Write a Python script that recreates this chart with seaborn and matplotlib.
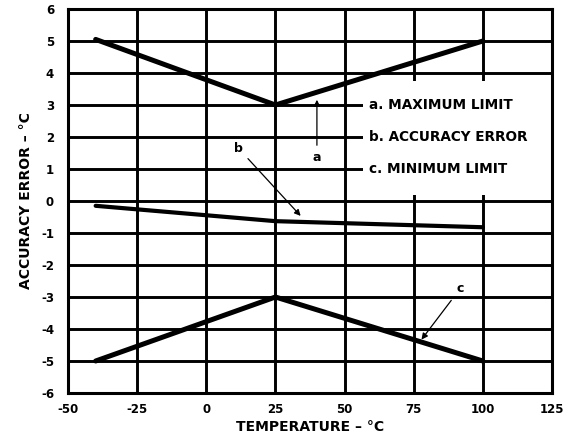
import matplotlib
matplotlib.use("Agg")
import matplotlib.pyplot as plt
import seaborn as sns
import pandas as pd
from matplotlib.patches import Rectangle

# Data
temps = [-40, 25, 100]
max_limit = [5.05, 3.0, 5.0]
accuracy_error = [-0.15, -0.63, -0.82]
min_limit = [-5.0, -3.0, -5.0]
x_ticks = [-50, -25, 0, 25, 50, 75, 100, 125]
y_ticks = [-6, -5, -4, -3, -2, -1, 0, 1, 2, 3, 4, 5, 6]
legend_labels = ["a. MAXIMUM LIMIT", "b. ACCURACY ERROR", "c. MINIMUM LIMIT"]

sns.set_style("white")
plt.rcParams["font.family"] = ["DejaVu Sans"]
plt.rcParams["font.weight"] = "bold"
plt.rcParams["axes.unicode_minus"] = False
plt.rcParams["text.color"] = "black"
plt.rcParams["axes.labelcolor"] = "black"
plt.rcParams["xtick.color"] = "black"
plt.rcParams["ytick.color"] = "black"

fig = plt.figure(figsize=(5.73, 4.43), dpi=100)
ax = fig.add_subplot(111)
fig.subplots_adjust(left=68/573, right=552/573, top=1-9/443, bottom=1-393/443)

df = pd.DataFrame({
    "temp": temps * 3,
    "value": max_limit + accuracy_error + min_limit,
    "series": ["a"] * 3 + ["b"] * 3 + ["c"] * 3,
})

for s, lw in [("a", 3.6), ("b", 3.0), ("c", 3.6)]:
    sns.lineplot(data=df[df["series"] == s], x="temp", y="value", ax=ax,
                 color="black", lw=lw, zorder=5, legend=False)

ax.set_xlim(-50, 125)
ax.set_ylim(-6, 6)
ax.set_xticks(x_ticks)
ax.set_yticks(y_ticks)
ax.set_xticklabels([str(v) for v in x_ticks])
ax.set_yticklabels([str(v) for v in y_ticks])
ax.grid(True, color="black", lw=2.1, zorder=1)
ax.set_axisbelow(True)
for sp in ax.spines.values():
    sp.set_color("black")
    sp.set_linewidth(2.2)
    sp.set_zorder(6)
ax.tick_params(axis="both", length=0, labelsize=8.5, pad=10, colors="black")
ax.tick_params(axis="x", pad=7)
for lab in ax.get_xticklabels() + ax.get_yticklabels():
    lab.set_fontweight("bold")
    lab.set_color("black")

ax.set_xlabel("TEMPERATURE – °C", fontsize=10, fontweight="bold", labelpad=3, color="black")
ax.set_ylabel("ACCURACY ERROR – °C", fontsize=10, fontweight="bold", labelpad=6, color="black")

# white legend box
ax.add_patch(Rectangle((56.5, 0.2), 125 - 56.5, 3.55, facecolor="white",
                       edgecolor="none", zorder=3))
for i, t in enumerate(legend_labels):
    ax.text(59, 3 - i, t, fontsize=9.8, fontweight="bold", va="center", ha="left",
            zorder=6, color="black")

arrow = dict(arrowstyle="-|>", color="black", lw=0.9, mutation_scale=9)
ax.annotate("a", xy=(40, 3.25), xytext=(40, 1.35), fontsize=9, fontweight="bold",
            ha="center", va="center", arrowprops=arrow, zorder=7, color="black")
ax.annotate("b", xy=(34.8, -0.53), xytext=(11.6, 1.65), fontsize=9, fontweight="bold",
            ha="center", va="center", arrowprops=arrow, zorder=7, color="black")
ax.annotate("c", xy=(77.2, -4.4), xytext=(91.7, -2.75), fontsize=9, fontweight="bold",
            ha="center", va="center", arrowprops=arrow, zorder=7, color="black")

fig.savefig("out.png", dpi=100)
